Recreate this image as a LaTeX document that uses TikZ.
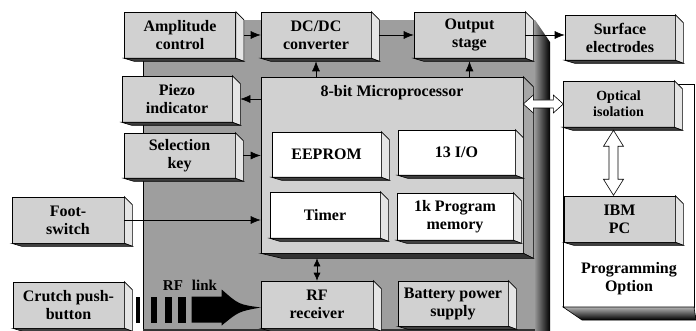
\documentclass[tikz,border=0pt]{standalone}
\usepackage{fontspec}
\setmainfont{Liberation Serif}
\usetikzlibrary{positioning,calc,arrows.meta}

\definecolor{facegray}{gray}{0.82}
\definecolor{backgray}{gray}{0.62}
\definecolor{sidegray}{gray}{0.90}

\tikzset{
  blockbox/.style={draw, fill=facegray, font=\bfseries\fontsize{16}{18}\selectfont,
    align=center, minimum width=111pt, minimum height=46pt, inner sep=0pt},
  chipbox/.style={blockbox, fill=white},
  arr/.style={-{Latex[length=10pt,width=8pt]}},
  biarr/.style={{Latex[length=8pt,width=7pt]}-{Latex[length=8pt,width=7pt]}},
  hollow/.style={draw, fill=white}
}

\begin{document}
\begin{tikzpicture}[x=1pt, y=-1pt, line width=0.6pt]
    \useasboundingbox (0,0) rectangle (696,331);

    % housing of the stimulator
    \fill[backgray] (143,20) rectangle (535,329);
    \draw (143,20) -- (143,329) -- (535,329);
    \fill[black!80] (143,329) rectangle (535,331);
    \shade[left color=gray!85, right color=black] (535,20) -- (550,42) -- (550,331) -- (535,331) -- cycle;

    % programming option
    \draw[fill=white] (563,84) rectangle (694,307);
    \shade[top color=gray!60, bottom color=black, draw=black] (563,307) -- (582,320) -- (696,320) -- (694,307) -- cycle;
    \node[font=\bfseries\fontsize{16}{18}\selectfont, align=center] (progtext) at (629,279) {Programming\\Option};

    % microprocessor
    \node[blockbox, minimum width=262pt, minimum height=176pt] (micro) at (392,165) {};
    \node[font=\bfseries\fontsize{16}{18}\selectfont] (mptitle) at ($(micro.north)+(0,16)$) {8-bit Microprocessor};
    \draw[fill=gray!70] (micro.north east) -- ++(10,10) -- ($(micro.south east)+(10,5)$) -- (micro.south east) -- cycle;
    \draw[fill=black!80] (micro.south west) -- ++(21,5) -- ($(micro.south east)+(10,5)$) -- (micro.south east) -- cycle;

    \node[chipbox, minimum width=109pt, minimum height=45pt] (eeprom) at (326.5,154.5) {EEPROM};
    \node[chipbox, minimum width=117pt, minimum height=45pt] (io) at (456.5,152.5) {13 I/O};
    \node[chipbox, minimum width=110pt] (timer) at (325,215) {Timer};
    \node[chipbox, minimum width=116pt, minimum height=47pt] (prog) at (455,216.5) {1k Program\\memory};

    % blocks
    \node[blockbox] (amp) at (180,35) {Amplitude\\control};
    \node[blockbox, minimum width=110pt] (dcdc) at (316,35) {DC/DC\\converter};
    \node[blockbox] (out) at (469.5,35) {Output\\stage};
    \node[blockbox, minimum width=110pt, minimum height=45pt] (surf) at (620,37.5) {Surface\\electrodes};
    \node[blockbox, minimum width=110pt] (piezo) at (177,99) {Piezo\\indicator};
    \node[blockbox, minimum height=45pt] (sel) at (179.5,155.5) {Selection\\key};
    \node[blockbox, minimum width=112pt] (foot) at (68,220) {Foot-\\switch};
    \node[blockbox] (crutch) at (68.5,305) {Crutch push-\\button};
    \node[blockbox, minimum width=112pt, minimum height=47pt] (rf) at (317,304.5) {RF\\receiver};
    \node[blockbox, minimum width=110pt, minimum height=45pt] (batt) at (453,303.5) {Battery power\\supply};
    \node[blockbox, font=\bfseries\fontsize{14}{16}\selectfont] (opt) at (618.5,104) {Optical\\isolation};
    \node[blockbox] (ibm) at (619.5,219) {IBM\\PC};

    % 3d sides
    \foreach \n in {amp,dcdc,out,surf,piezo,sel,foot,crutch,eeprom,io,timer,prog,rf,batt,opt,ibm} {
        \draw[fill=sidegray] (\n.north east) -- ++(8,8) -- ($(\n.south east)+(8,3)$) -- (\n.south east) -- cycle;
        \draw[fill=black!75] (\n.south west) -- ++(10,3) -- ($(\n.south east)+(8,3)$) -- (\n.south east) -- cycle;
    }

    % signals
    \draw[arr] ([xshift=8pt]amp.east) -- (dcdc.west);
    \draw[arr] ([xshift=8pt]dcdc.east) -- (out.west);
    \draw[arr] (out.east) -- (out.east -| surf.west);
    \draw[arr] (dcdc.south |- micro.north) -- ([yshift=-3pt]dcdc.south);
    \draw[arr] (out.south |- micro.north) -- ([yshift=-3pt]out.south);
    \draw[arr] (micro.west |- piezo.east) -- ([xshift=8pt]piezo.east);
    \draw[arr] ([xshift=8pt]sel.east) -- (micro.west |- sel.east);
    \draw[arr] (foot.east) -- (micro.west |- foot.east);
    \draw[biarr] ([yshift=-5pt]rf.north |- micro.south) -- (rf.north);

    % hollow links
    \draw[hollow] (micro.east |- opt.west) -- ++(10,-9) -- ++(0,5) -- ++(20,0) -- ++(0,-5)
        -- ++(10,9) -- ++(-10,9) -- ++(0,-5) -- ++(-20,0) -- ++(0,5) -- cycle;
    \draw[hollow] ([xshift=-5pt,yshift=-3pt]opt.south) -- ++(-10,16) -- ++(5.5,0) -- ++(0,33) -- ++(-5.5,0)
        -- ++(10,16) -- ++(10,-16) -- ++(-5.5,0) -- ++(0,-33) -- ++(5.5,0) -- cycle;

    % RF link
    \begin{scope}[shift={(rf.west)}]
        \fill (-125,-8) rectangle (-121,18);
        \fill (-110,-8) rectangle (-104,18);
        \fill (-96,-8) rectangle (-89,18);
        \fill (-83,-8) rectangle (-75,18);
        \fill (0,3) .. controls (-22,0) .. (-39,-15) -- (-39,-8) -- (-69,-8) -- (-69,18)
            -- (-39,18) -- (-39,21) .. controls (-22,7) .. (0,3) -- cycle;
    \end{scope}
    \node[font=\bfseries\fontsize{15}{17}\selectfont] (rflabel) at (190,285) {RF\hspace{0.6em}link};
\end{tikzpicture}
\end{document}
